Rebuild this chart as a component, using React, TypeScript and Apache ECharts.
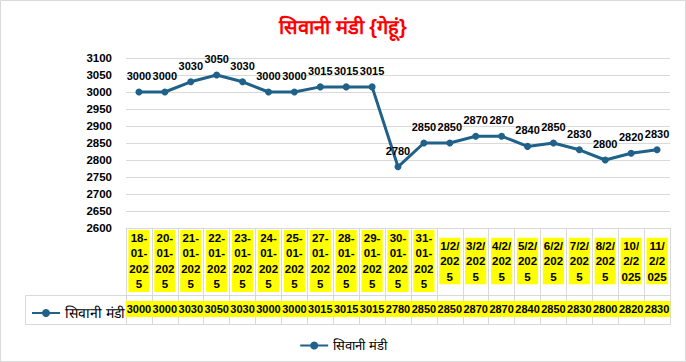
import React, { useEffect, useRef } from "react";
import * as echarts from "echarts";

const titleText = "सिवानी मंडी {गेहूं}";
const seriesName = "सिवानी मंडी";
const categories = [
  "18-01-2025", "20-01-2025", "21-01-2025", "22-01-2025", "23-01-2025", "24-01-2025",
  "25-01-2025", "27-01-2025", "28-01-2025", "29-01-2025", "30-01-2025", "31-01-2025",
  "1/2/2025", "3/2/2025", "4/2/2025", "5/2/2025", "6/2/2025", "7/2/2025", "8/2/2025",
  "10/2/2025", "11/2/2025",
];
const prices = [
  3000, 3000, 3030, 3050, 3030, 3000, 3000, 3015, 3015, 3015, 2780, 2850,
  2850, 2870, 2870, 2840, 2850, 2830, 2800, 2820, 2830,
];
const yMin = 2600;
const yMax = 3100;
const yStep = 50;

const FONT = '"Liberation Sans Narrow", "Arial Narrow", "Liberation Sans", Arial, sans-serif';
const LINE_COLOR = "#1F6189";
const GRID_COLOR = "#d9d9d9";

// Mimic Excel's narrow-cell wrapping of the date labels
function wrapLabel(s: string): string {
  const w = (ch: string) => (ch === "-" ? 0.6 : ch === "/" ? 0.5 : 1);
  const maxW = 3.3;
  const tokens = (s.match(/[^-/]*[-/]?/g) || []).filter(Boolean);
  const lines: string[] = [];
  let cur = "";
  let curW = 0;
  for (const t of tokens) {
    const tw = t.split("").reduce((a, c) => a + w(c), 0);
    if (curW + tw <= maxW) {
      cur += t;
      curW += tw;
    } else if (tw <= maxW) {
      if (cur) lines.push(cur);
      cur = t;
      curW = tw;
    } else {
      for (const ch of t) {
        if (curW + w(ch) > maxW) {
          if (cur) lines.push(cur);
          cur = ch;
          curW = w(ch);
        } else {
          cur += ch;
          curW += w(ch);
        }
      }
    }
  }
  if (cur) lines.push(cur);
  return lines.join("\n");
}

export default function App() {
  const ref = useRef<HTMLDivElement>(null);
  useEffect(() => {
    if (!ref.current) return;
    const chart = echarts.init(ref.current, undefined, { renderer: "svg" });
    const gridLeft = 126;
    const gridRight = 16;
    const gridTop = 58;
    const gridBottomY = 228;
    const H = 362;
    chart.setOption({
      animation: false,
      backgroundColor: "#ffffff",
      title: {
        text: titleText,
        left: "center",
        top: 12,
        textStyle: { color: "#ff0000", fontSize: 20, fontWeight: "bold" },
      },
      legend: [
        {
          data: [seriesName],
          left: 26,
          top: 301,
          itemWidth: 28,
          itemHeight: 10,
          itemGap: 4,
          selectedMode: false,
          textStyle: { color: "#000", fontSize: 14 },
        },
        {
          data: [seriesName],
          left: "center",
          top: 334,
          itemWidth: 28,
          itemHeight: 10,
          selectedMode: false,
          textStyle: { color: "#000", fontSize: 13 },
        },
      ],
      grid: {
        left: gridLeft,
        right: gridRight,
        top: gridTop,
        bottom: H - gridBottomY,
        containLabel: false,
      },
      xAxis: [
        {
          type: "category",
          data: categories,
          position: "bottom",
          boundaryGap: true,
          axisLine: { show: true, lineStyle: { color: GRID_COLOR, width: 1 } },
          axisTick: {
            show: true,
            interval: 0,
            length: 96,
            lineStyle: { color: GRID_COLOR, width: 1 },
          },
          axisLabel: {
            interval: 0,
            formatter: (v: string) => wrapLabel(v),
            fontFamily: FONT,
            fontWeight: "bold",
            fontSize: 11.5,
            color: "#000",
            backgroundColor: "#ffff00",
            lineHeight: 15.5,
            padding: [0, 1],
            verticalAlign: "middle",
            align: "center",
            margin: 33,
          },
        },
        {
          type: "category",
          data: categories,
          position: "bottom",
          offset: 67,
          boundaryGap: true,
          axisLine: { show: true, lineStyle: { color: GRID_COLOR, width: 1 } },
          axisTick: { show: false },
          axisLabel: {
            interval: 0,
            formatter: (_v: string, i: number) => String(prices[i]),
            fontFamily: FONT,
            fontWeight: "bold",
            fontSize: 11,
            color: "#000",
            backgroundColor: "#ffff00",
            padding: [3, 1, 2, 1],
            verticalAlign: "middle",
            margin: 14,
          },
        },
      ],
      yAxis: {
        type: "value",
        min: yMin,
        max: yMax,
        interval: yStep,
        axisLine: { show: false },
        axisTick: { show: false },
        splitLine: { show: true, lineStyle: { color: GRID_COLOR, width: 1 } },
        axisLabel: {
          formatter: (v: number) => String(v),
          fontFamily: FONT,
          fontWeight: "bold",
          fontSize: 11.5,
          color: "#000",
          margin: 14,
        },
      },
      series: [
        {
          name: seriesName,
          type: "line",
          data: prices,
          xAxisIndex: 0,
          color: LINE_COLOR,
          symbol: "circle",
          symbolSize: 7,
          lineStyle: { width: 3, color: LINE_COLOR },
          itemStyle: { color: LINE_COLOR },
          label: {
            show: true,
            position: "top",
            distance: 7,
            fontFamily: FONT,
            fontWeight: "bold",
            fontSize: 11,
            color: "#000",
          },
        },
      ],
      graphic: [
        {
          type: "rect",
          shape: { x: 25.5, y: 295.5, width: 670 - 25, height: 29 },
          style: { fill: "none", stroke: GRID_COLOR, lineWidth: 1 },
          silent: true,
        },
        {
          type: "rect",
          shape: { x: 0.5, y: 0.5, width: 685, height: 361 },
          style: { fill: "none", stroke: GRID_COLOR, lineWidth: 1 },
          silent: true,
        },
      ],
    });
    return () => chart.dispose();
  }, []);
  return (
    <div
      ref={ref}
      style={{ position: "fixed", left: 0, top: 0, width: 686, height: 362 }}
    />
  );
}
